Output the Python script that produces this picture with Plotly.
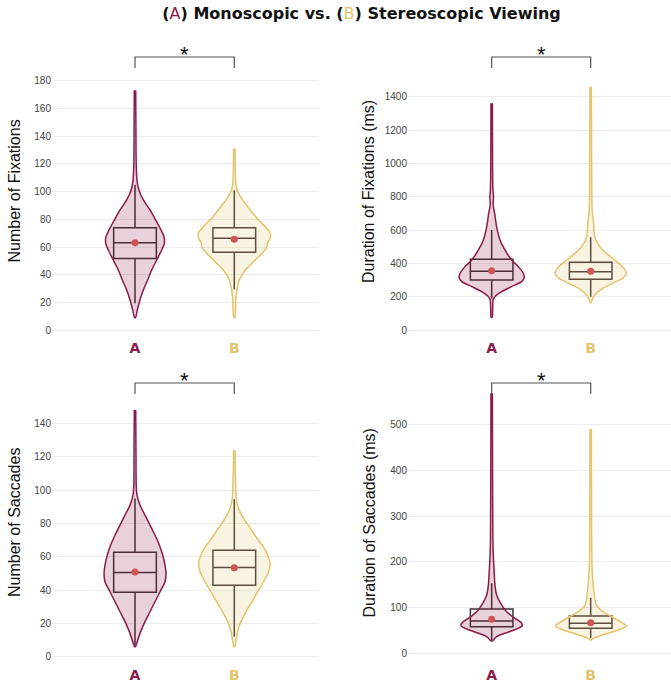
import plotly.graph_objects as go

# ---------------- data ----------------
categories = ["A", "B"]
tick_text = ['<b><span style="color:#8B1A4B">A</span></b>',
             '<b><span style="color:#E3C46C">B</span></b>']

# violin outlines: y levels and half-widths (in category units)
fixcount_A_y = [173, 150, 120, 108, 101, 94, 86.8, 79.5, 72.3, 67.5, 62.7, 57.9, 50.7, 43.5, 36.3, 29, 21.9, 14.6, 9.2]
fixcount_A_w = [0.007, 0.009, 0.012, 0.02, 0.04, 0.084, 0.151, 0.208, 0.262, 0.292, 0.295, 0.269, 0.219, 0.168, 0.128, 0.084, 0.05, 0.023, 0.005]
fixcount_B_y = [131, 115, 105.8, 101, 94, 86.8, 79.5, 74.7, 69.9, 66.3, 62.7, 60.3, 55.5, 50.7, 43.5, 36.3, 29, 21.9, 9.2]
fixcount_B_w = [0.007, 0.01, 0.015, 0.03, 0.084, 0.161, 0.245, 0.312, 0.363, 0.36, 0.332, 0.329, 0.279, 0.211, 0.111, 0.05, 0.027, 0.015, 0.005]

fixdur_A_y = [1362, 1000, 850, 800, 750, 702, 622, 542, 482, 422, 382, 342, 318, 292, 262, 232, 202, 182, 130, 78]
fixdur_A_w = [0.007, 0.009, 0.012, 0.018, 0.015, 0.03, 0.05, 0.084, 0.134, 0.201, 0.269, 0.319, 0.329, 0.302, 0.201, 0.101, 0.033, 0.015, 0.01, 0.005]
fixdur_B_y = [1462, 1000, 722, 642, 562, 502, 462, 422, 382, 342, 312, 282, 252, 222, 192, 166]
fixdur_B_w = [0.007, 0.01, 0.015, 0.03, 0.04, 0.091, 0.158, 0.242, 0.322, 0.36, 0.322, 0.222, 0.121, 0.057, 0.02, 0.005]

saccount_A_y = [148, 120, 103, 97, 91, 85, 79, 73.1, 67.1, 61.1, 55.1, 50.1, 45.1, 39.1, 33.1, 27.1, 21.2, 15.2, 9.2, 6.2]
saccount_A_w = [0.007, 0.01, 0.012, 0.02, 0.05, 0.101, 0.151, 0.201, 0.245, 0.279, 0.302, 0.312, 0.302, 0.252, 0.201, 0.151, 0.101, 0.057, 0.023, 0.005]
saccount_B_y = [124, 110, 101, 95, 89, 83.1, 77.1, 71.1, 65.1, 59.1, 55.5, 51.1, 45.1, 39.1, 33.1, 27.1, 21.2, 15.2, 9.2, 6.2]
saccount_B_w = [0.007, 0.01, 0.015, 0.02, 0.043, 0.094, 0.161, 0.229, 0.302, 0.349, 0.36, 0.345, 0.295, 0.235, 0.178, 0.118, 0.067, 0.033, 0.015, 0.005]

sacdur_A_y = [568, 400, 250, 215, 179, 150, 128, 106, 91.6, 77.1, 68.4, 61.1, 53.8, 44.5, 37.1, 27.7]
sacdur_A_w = [0.007, 0.009, 0.012, 0.016, 0.025, 0.033, 0.05, 0.101, 0.151, 0.235, 0.295, 0.309, 0.252, 0.134, 0.05, 0.005]
sacdur_B_y = [490, 300, 193, 164, 128, 106, 91.6, 77.1, 66.3, 60.4, 51.7, 42.3, 34.9, 29.9]
sacdur_B_w = [0.007, 0.009, 0.013, 0.02, 0.037, 0.057, 0.124, 0.242, 0.325, 0.36, 0.275, 0.141, 0.04, 0.005]

# box stats: [lowerfence, q1, median, q3, upperfence]
fixcount_box_A = [19.5, 51.7, 63.2, 74.0, 105]
fixcount_box_B = [29.5, 56.2, 66.3, 74.0, 101]
fixdur_box_A = [190, 302, 354, 426, 602]
fixdur_box_B = [202, 306, 352, 408, 558]
saccount_box_A = [6, 38.8, 50.7, 62.7, 95]
saccount_box_B = [12.2, 43.0, 53.7, 63.9, 94.5]
sacdur_box_A = [29.9, 58.9, 71.3, 97.4, 153.5]
sacdur_box_B = [33.6, 55.4, 66.3, 82.2, 122]

# means
fixcount_mean = [63.2, 65.6]
fixdur_mean = [358, 354]
saccount_mean = [51, 53.5]
sacdur_mean = [74.9, 67.6]

# y-axis ticks and titles
fixcount_ticks = [0, 20, 40, 60, 80, 100, 120, 140, 160, 180]
fixdur_ticks = [0, 200, 400, 600, 800, 1000, 1200, 1400]
saccount_ticks = [0, 20, 40, 60, 80, 100, 120, 140]
sacdur_ticks = [0, 100, 200, 300, 400, 500]
titles = ["Number of Fixations", "Duration of Fixations (ms)",
          "Number of Saccades", "Duration of Saccades (ms)"]

# ---------------- style ----------------
MAROON = "#8B1A4B"
GOLD = "#E3C46C"
FILLS = ["rgba(139,26,75,0.2)", "rgba(227,196,108,0.2)"]
LINES = [MAROON, GOLD]
BOXLINE = "#3a3232"
MEANCOL = "#CD5555"
W, H = 671, 687
ML, MR, MT, MB = 52, 0, 45, 24
PW, PH = W - ML - MR, H - MT - MB


def px_x(p):
    return (p - ML) / PW


def px_y(p):
    return (H - MB - p) / PH


panels = [
    dict(vy=[fixcount_A_y, fixcount_B_y], vw=[fixcount_A_w, fixcount_B_w],
         box=[fixcount_box_A, fixcount_box_B], mean=fixcount_mean, ticks=fixcount_ticks,
         yr=[-4.1, 205.7], xr=[-0.836, 1.853], xd=[px_x(52), px_x(319)], yd=[px_y(336), px_y(45)],
         br=(57, 68), star=54, tx=14, ty=191.5),
    dict(vy=[fixdur_A_y, fixdur_B_y], vw=[fixdur_A_w, fixdur_B_w],
         box=[fixdur_box_A, fixdur_box_B], mean=fixdur_mean, ticks=fixdur_ticks,
         yr=[-34.2, 1711.8], xr=[-0.845, 1.811], xd=[px_x(408), 1.0], yd=[px_y(336), px_y(45)],
         br=(57, 68), star=54, tx=368.5, ty=191.5),
    dict(vy=[saccount_A_y, saccount_B_y], vw=[saccount_A_w, saccount_B_w],
         box=[saccount_box_A, saccount_box_B], mean=saccount_mean, ticks=saccount_ticks,
         yr=[-3.6, 164.2], xr=[-0.836, 1.853], xd=[px_x(52), px_x(319)], yd=[px_y(663), px_y(383)],
         br=(383, 394), star=380, tx=14, ty=523),
    dict(vy=[sacdur_A_y, sacdur_B_y], vw=[sacdur_A_w, sacdur_B_w],
         box=[sacdur_box_A, sacdur_box_B], mean=sacdur_mean, ticks=sacdur_ticks,
         yr=[-20.3, 590.2], xr=[-0.845, 1.811], xd=[px_x(408), 1.0], yd=[px_y(663), px_y(383)],
         br=(383, 394), star=380, tx=368.5, ty=523),
]

fig = go.Figure()
shapes, annotations = [], []
layout_axes = {}

for i, p in enumerate(panels):
    sfx = "" if i == 0 else str(i + 1)
    xa, ya = "x" + sfx, "y" + sfx
    for j in range(2):
        ys, ws = p["vy"][j], p["vw"][j]
        xs = [j + w for w in ws] + [j - w for w in ws[::-1]]
        yy = list(ys) + list(ys[::-1])
        fig.add_trace(go.Scatter(x=xs, y=yy, mode="lines", fill="toself",
                                 fillcolor=FILLS[j],
                                 line=dict(color=LINES[j], width=1.5, shape="spline", smoothing=0.8),
                                 hoverinfo="skip", showlegend=False, xaxis=xa, yaxis=ya))
    for j in range(2):
        lf, q1, med, q3, uf = p["box"][j]
        fig.add_trace(go.Box(x=[j], q1=[q1], median=[med], q3=[q3],
                             lowerfence=[lf], upperfence=[uf], width=0.43,
                             fillcolor="rgba(255,255,255,0.12)",
                             line=dict(color=BOXLINE, width=1.5), whiskerwidth=0,
                             boxpoints=False, showlegend=False, hoverinfo="skip",
                             xaxis=xa, yaxis=ya))
    fig.add_trace(go.Scatter(x=[0, 1], y=p["mean"], mode="markers",
                             marker=dict(color=MEANCOL, size=7),
                             showlegend=False, hoverinfo="skip", xaxis=xa, yaxis=ya))

    xkey = "xaxis" + sfx
    ykey = "yaxis" + sfx
    layout_axes[xkey] = dict(domain=p["xd"], anchor=ya, range=p["xr"], tickmode="array",
                             tickvals=[0, 1], ticktext=tick_text, showgrid=False,
                             zeroline=False, showline=False, ticks="", ticklabelstandoff=2,
                             tickfont=dict(family="DejaVu Sans", size=14))
    layout_axes[ykey] = dict(domain=p["yd"], anchor=xa, range=p["yr"], tickmode="array",
                             tickvals=p["ticks"], showgrid=True, gridcolor="#ececec",
                             gridwidth=1, zeroline=False, showline=False, ticks="",
                             tickfont=dict(family="Liberation Sans, Arial", size=10, color="#444"))
    annotations.append(dict(x=px_x(p["tx"]), xref="paper", y=px_y(p["ty"]), yref="paper",
                            text=titles[i], textangle=-90, showarrow=False,
                            xanchor="center", yanchor="middle",
                            font=dict(family="Liberation Sans, Arial", size=16, color="#111")))
    ytop, ybot = p["br"]
    shapes.append(dict(type="path", xref=xa, yref="paper",
                       path=f"M 0,{px_y(ybot)} L 0,{px_y(ytop)} L 1,{px_y(ytop)} L 1,{px_y(ybot)}",
                       line=dict(color="#555", width=1.2)))
    annotations.append(dict(x=0.5, xref=xa, y=px_y(p["star"]), yref="paper",
                            text="*", showarrow=False, yanchor="middle",
                            font=dict(family="Liberation Sans, Arial", size=22, color="#111")))

title_text = ('<b>(</b><span style="color:#8B1A4B">A</span><b>) Monoscopic vs. (</b>'
              '<span style="color:#E3C46C">B</span><b>) Stereoscopic Viewing</b>')

fig.update_layout(
    width=W, height=H,
    margin=dict(l=ML, r=MR, t=MT, b=MB, autoexpand=False),
    paper_bgcolor="white", plot_bgcolor="white",
    title=dict(text=title_text, x=0.5, xref="paper", xanchor="center",
               y=1 - 13 / H, yref="container", yanchor="middle",
               font=dict(family="DejaVu Sans", size=16, color="#111")),
    shapes=shapes, annotations=annotations,
    boxmode="overlay",
    **layout_axes,
)

fig.write_html("out.html")
